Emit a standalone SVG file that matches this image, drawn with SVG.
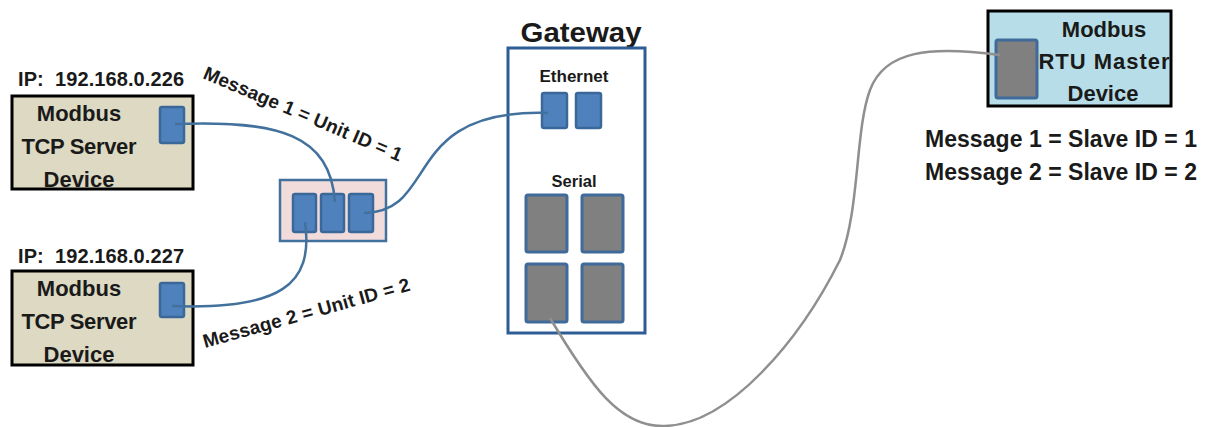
<svg xmlns="http://www.w3.org/2000/svg" width="1212" height="427" viewBox="0 0 1212 427">
<style>
text{font-family:"Liberation Sans",Arial,sans-serif;font-weight:bold;fill:#1a1a1a}
.dev{fill:#ddd9c3;stroke:#000;stroke-width:3}
.master{fill:#b7dee8;stroke:#000;stroke-width:3}
.port{fill:#4f81bd;stroke:#3a6898;stroke-width:2.5}
.sport{fill:#808080;stroke:#3f6a9a;stroke-width:3}
.sw{fill:#f2dcdb;stroke:#41719c;stroke-width:2.5}
.gw{fill:#fff;stroke:#2e5d95;stroke-width:3}
.cb{fill:none;stroke:#41719c;stroke-width:2.5}
.cg{fill:none;stroke:#8f8f8f;stroke-width:2.5}
.big{font-size:22px}
.ip{font-size:20px;white-space:pre}
.msg{font-size:19px}
.lbl{font-size:16px}
</style>
<g id="tcp1">
<text class="ip" x="18" y="86" xml:space="preserve" textLength="166" lengthAdjust="spacing">IP:  192.168.0.226</text>
<rect class="dev" x="12" y="96" width="181" height="93"/>
<text class="big" x="79" y="121" text-anchor="middle">Modbus</text>
<text class="big" x="79" y="154" text-anchor="middle" textLength="115" lengthAdjust="spacing">TCP Server</text>
<text class="big" x="79" y="187" text-anchor="middle">Device</text>
<rect class="port" x="160" y="107" width="24" height="36" rx="2"/>
</g>
<g id="tcp2">
<text class="ip" x="18" y="263" xml:space="preserve" textLength="166" lengthAdjust="spacing">IP:  192.168.0.227</text>
<rect class="dev" x="12" y="271" width="181" height="94"/>
<text class="big" x="79" y="296" text-anchor="middle">Modbus</text>
<text class="big" x="79" y="329" text-anchor="middle" textLength="115" lengthAdjust="spacing">TCP Server</text>
<text class="big" x="79" y="362" text-anchor="middle">Device</text>
<rect class="port" x="160" y="283" width="24" height="34" rx="2"/>
</g>
<g id="switch">
<rect class="sw" x="280" y="180" width="106" height="61"/>
<rect class="port" x="293" y="194" width="23" height="38" rx="2"/>
<rect class="port" x="321" y="194" width="23" height="38" rx="2"/>
<rect class="port" x="349" y="194" width="24" height="38" rx="2"/>
</g>
<g id="gateway">
<text x="581" y="42" font-size="27" text-anchor="middle" textLength="121" lengthAdjust="spacingAndGlyphs">Gateway</text>
<rect class="gw" x="508" y="48" width="137" height="285"/>
<text class="lbl" x="574" y="82" text-anchor="middle" textLength="69" lengthAdjust="spacingAndGlyphs">Ethernet</text>
<rect class="port" x="542" y="93" width="25" height="35" rx="2"/>
<rect class="port" x="576" y="93" width="25" height="35" rx="2"/>
<text class="lbl" x="574" y="187" text-anchor="middle" textLength="45" lengthAdjust="spacingAndGlyphs">Serial</text>
<rect class="sport" x="526" y="195" width="41" height="57" rx="2"/>
<rect class="sport" x="582" y="195" width="41" height="57" rx="2"/>
<rect class="sport" x="526" y="264" width="41" height="58" rx="2"/>
<rect class="sport" x="582" y="264" width="41" height="58" rx="2"/>
</g>
<g id="master">
<rect class="master" x="988" y="11" width="183" height="95"/>
<text class="big" x="1104" y="37" text-anchor="middle">Modbus</text>
<text class="big" x="1104" y="69" text-anchor="middle" textLength="131" lengthAdjust="spacing">RTU Master</text>
<text class="big" x="1103" y="101" text-anchor="middle">Device</text>
<rect class="sport" x="996" y="40" width="41" height="58" rx="2"/>
</g>
<g id="connectors">
<path class="cb" d="M175,124 C280,120 330,135 335,202"/>
<path class="cb" d="M172,306 C280,310 314,285 305,222"/>
<path class="cb" d="M364,213 C440,212 400,108 548,113"/>
<path class="cg" d="M550,318 C590,385 620,428 665,426 C730,424 800,340 840,260 C860,210 855,130 870,90 C885,50 930,46 1000,55"/>
</g>
<g id="labels">
<text class="msg" transform="translate(202,78) rotate(23)" textLength="214" lengthAdjust="spacing">Message 1 = Unit ID = 1</text>
<text class="msg" transform="translate(205,348) rotate(-15.6)" textLength="214" lengthAdjust="spacing">Message 2 = Unit ID = 2</text>
<text x="925" y="147" font-size="23" textLength="272" lengthAdjust="spacing">Message 1 = Slave ID = 1</text>
<text x="925" y="180" font-size="23" textLength="272" lengthAdjust="spacing">Message 2 = Slave ID = 2</text>
</g>
</svg>
